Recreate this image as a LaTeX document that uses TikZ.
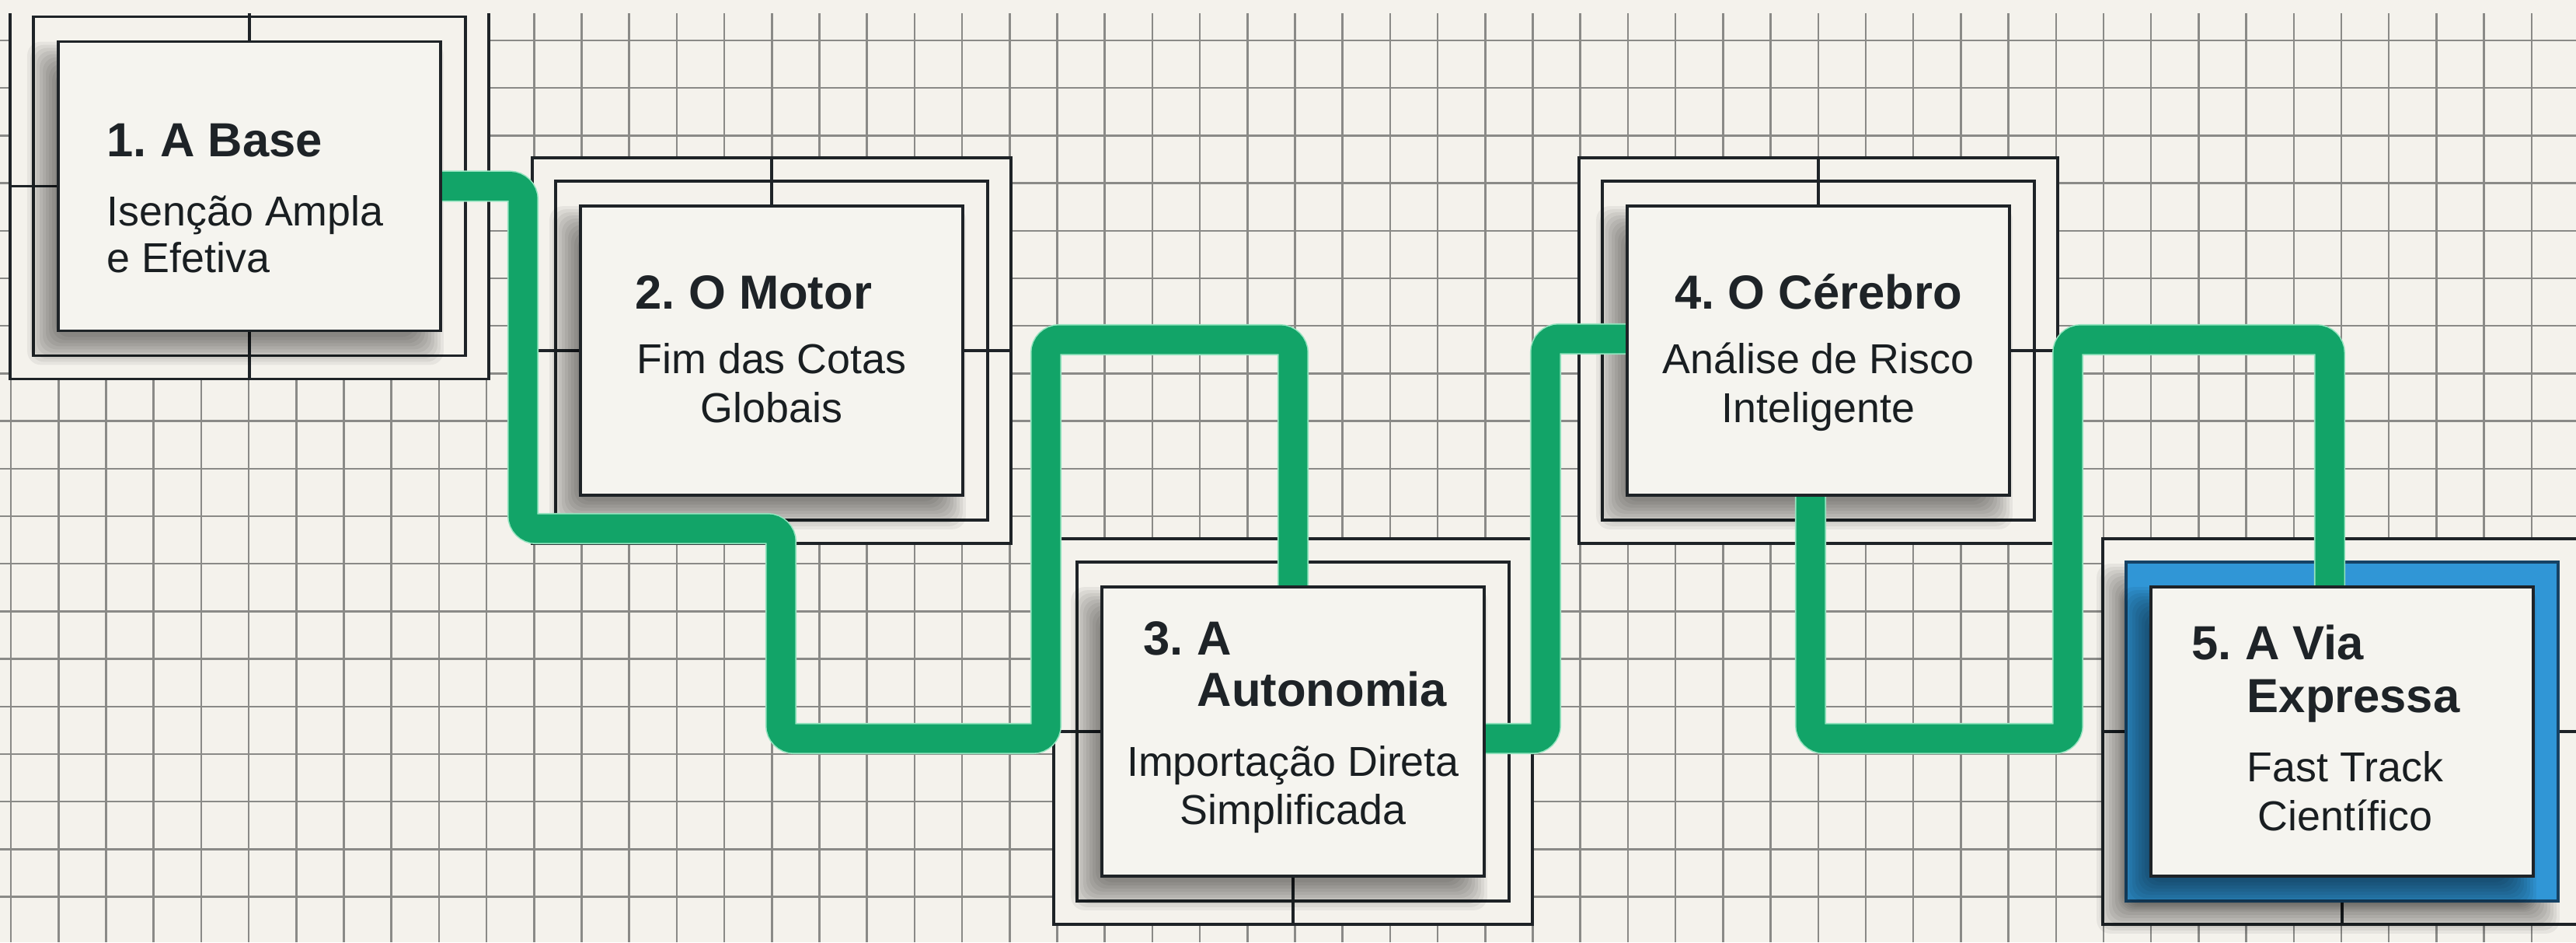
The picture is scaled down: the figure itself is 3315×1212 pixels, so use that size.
\documentclass[tikz,border=0pt]{standalone}
\usepackage{fontspec}
\setmainfont{Liberation Sans}
\usetikzlibrary{calc}

\definecolor{paper}{RGB}{244,242,236}
\definecolor{boxfill}{RGB}{245,244,239}
\definecolor{gridgray}{RGB}{138,138,135}
\definecolor{ink}{RGB}{30,35,39}
\definecolor{routegreen}{RGB}{18,164,104}
\definecolor{routeglow}{RGB}{150,228,192}
\definecolor{bandblue}{RGB}{48,150,214}
\definecolor{bandedge}{RGB}{22,66,100}

\pgfdeclarelayer{paperlayer}
\pgfdeclarelayer{framelayer}
\pgfdeclarelayer{shadowlayer}
\pgfdeclarelayer{routelayer}
\pgfsetlayers{paperlayer,framelayer,shadowlayer,routelayer,main}

\tikzset{
  stagebox/.style={draw=ink, line width=1pt, fill=boxfill,
    minimum width=4.92cm, minimum height=3.72cm, inner sep=0pt},
  framerect/.style={draw=ink, line width=1pt},
  tickline/.style={draw=ink, line width=1pt},
  gridline/.style={draw=gridgray, line width=0.7pt},
  route/.style={preaction={draw=routeglow, line width=11.4pt},
    draw=routegreen, line width=10.5pt, rounded corners=0.17cm},
  titletext/.style={font=\fontsize{17.5}{20}\selectfont\bfseries\frenchspacing,
    text=ink, inner sep=0pt},
  bodytext/.style={font=\fontsize{15.3}{17}\selectfont\frenchspacing,
    text=ink!85!black, inner sep=0pt},
}

% soft drop shadow built from stacked translucent rectangles
% #1 = node name, #2 = extra margin around the node
\newcommand{\stageshadow}[2]{%
  \foreach \e in {-16,-12,...,20} {
    \fill[black, opacity=0.055, rounded corners=5pt]
      ([shift={(-18-#2-\e,22-#2-\e)}]#1.north west)
      rectangle ([shift={(-18+#2+\e,22+#2+\e)}]#1.south east);
  }%
}

\begin{document}
\begin{tikzpicture}[x=0.01cm, y=-0.01cm]
\useasboundingbox (0,0) rectangle (3315,1212);

% the five stages
\node[stagebox] (b1) at (321,239.5) {};
\node[stagebox] (b2) at (993,451) {};
\node[stagebox] (b3) at (1664,941) {};
\node[stagebox] (b4) at (2340,451) {};
\node[stagebox] (b5) at (3014,941) {};

% squared paper
\begin{pgfonlayer}{paperlayer}
  \fill[paper] (0,0) rectangle (3315,1212);
  \begin{scope}
    \clip (0,17) rectangle (3315,1212);
    \foreach \i in {0,...,54} {
      \pgfmathsetmacro{\gx}{14.1+61.2*\i}
      \draw[gridline] (\gx,17) -- (\gx,1212);
    }
    \foreach \j in {0,...,19} {
      \pgfmathsetmacro{\gy}{52+61.2*\j}
      \draw[gridline] (0,\gy) -- (3315,\gy);
    }
  \end{scope}
\end{pgfonlayer}

% nested frames and centre ticks
\begin{pgfonlayer}{framelayer}
  \begin{scope}
    \clip (0,17) rectangle (3315,1212);
    \foreach \b in {b1,b2,b3,b4,b5}
      \draw[framerect, fill=paper] ([shift={(-60,-60)}]\b.north west)
        rectangle ([shift={(60,60)}]\b.south east);
    \draw[tickline] (b1.north) -- ++(0,-60);
    \draw[tickline] (b1.south) -- ++(0,60);
    \draw[tickline] (b1.west) -- ++(-60,0);
    \draw[tickline] (b2.north) -- ++(0,-60);
    \draw[tickline] (b2.west) -- ++(-60,0);
    \draw[tickline] (b2.east) -- ++(60,0);
    \draw[tickline] (b3.west) -- ++(-60,0);
    \draw[tickline] (b3.south) -- ++(0,60);
    \draw[tickline] (b4.north) -- ++(0,-60);
    \draw[tickline] (b4.east) -- ++(60,0);
    \draw[tickline] (b5.west) -- ++(-60,0);
    \draw[tickline] (b5.east) -- ++(60,0);
    \draw[tickline] (b5.south) -- ++(0,60);
    \foreach \b in {b1,b2,b3,b4}
      \draw[framerect] ([shift={(-30,-30)}]\b.north west)
        rectangle ([shift={(30,30)}]\b.south east);
    \stageshadow{b5}{30}
    \draw[draw=bandedge, line width=1.3pt, fill=bandblue]
      ([shift={(-30,-30)}]b5.north west) rectangle ([shift={(30,30)}]b5.south east);
  \end{scope}
\end{pgfonlayer}

% shadows under the stage cards
\begin{pgfonlayer}{shadowlayer}
  \foreach \b in {b1,b2,b3,b4,b5} { \stageshadow{\b}{0} }
\end{pgfonlayer}

% green route weaving between the stages
\begin{pgfonlayer}{routelayer}
  \draw[route] (b1.east) -- (673,239.5) -- (673,680) -- (1005,680)
    -- (1005,950) -- (1346,950) -- (1346,437) -- (1664,437) -- (b3.north);
  \draw[route] ($(b3.east)+(0,9)$) -- (1989,950) -- (1989,436)
    -- ($(b4.west)+(0,-15)$);
  \draw[route] ($(b4.south)+(-10,0)$) -- (2330,950) -- (2661,950)
    -- (2661,437) -- (2998,437) -- ($(b5.north)+(-16,0)$);
\end{pgfonlayer}

% labels
\node[titletext, anchor=base west] (t1) at (137,201) {1. A Base};
\node[bodytext, anchor=base west] (s1a) at (137,290) {Isenção Ampla};
\node[bodytext, anchor=base west] (s1b) at (137,350) {e Efetiva};

\node[titletext, anchor=base west] (t2) at (817,397) {2. O Motor};
\node[bodytext, anchor=base] (s2a) at (993,480) {Fim das Cotas};
\node[bodytext, anchor=base] (s2b) at (993,543) {Globais};

\node[titletext, anchor=base west] (t3a) at (1471,842) {3. A};
\node[titletext, anchor=base west] (t3b) at (1540,908) {Autonomia};
\node[bodytext, anchor=base] (s3a) at (1664,998) {Importação Direta};
\node[bodytext, anchor=base] (s3b) at (1664,1060) {Simplificada};

\node[titletext, anchor=base] (t4) at (2340,397) {4. O Cérebro};
\node[bodytext, anchor=base] (s4a) at (2340,480) {Análise de Risco};
\node[bodytext, anchor=base] (s4b) at (2340,543) {Inteligente};

\node[titletext, anchor=base west] (t5a) at (2820,848) {5. A Via};
\node[titletext, anchor=base west] (t5b) at (2891,916) {Expressa};
\node[bodytext, anchor=base] (s5a) at (3018,1005) {Fast Track};
\node[bodytext, anchor=base] (s5b) at (3018,1068) {Científico};
\end{tikzpicture}
\end{document}
